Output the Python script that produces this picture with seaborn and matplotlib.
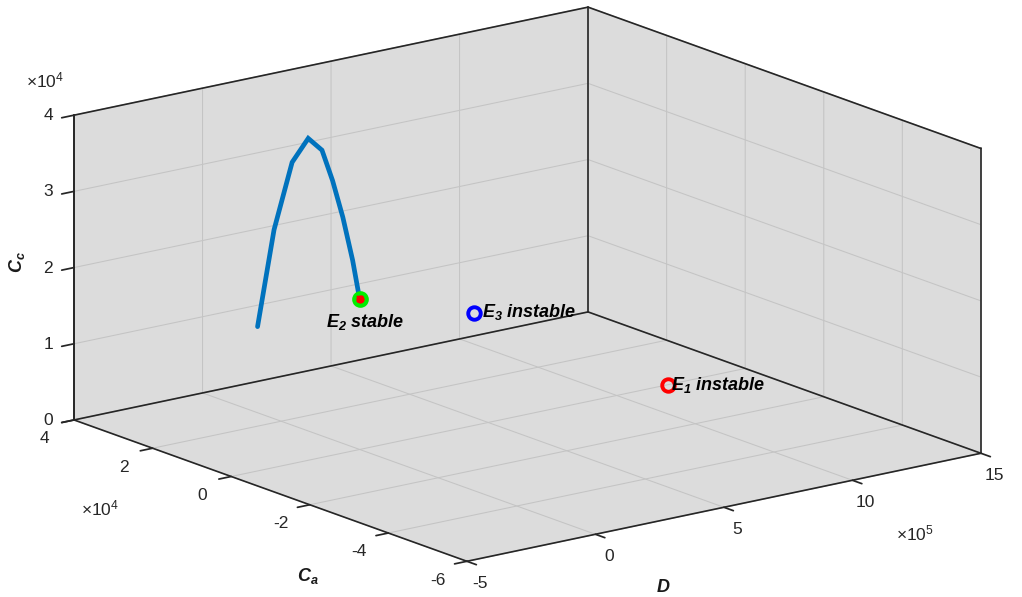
import numpy as np
import matplotlib
matplotlib.use("Agg")
import matplotlib.pyplot as plt
import seaborn as sns

# ---- data -------------------------------------------------------------
# trajectory (D, Ca, Cc) that settles onto the stable equilibrium E2
traj_D = [0, 0, 0, 0, 0, 0, 0, 0, 0]
traj_Ca = [2.60e4, 2.18e4, 1.72e4, 1.31e4, 0.96e4, 0.69e4, 0.43e4, 0.18e4, 0.0]
traj_Cc = [1.13e4, 2.48e4, 3.45e4, 3.84e4, 3.75e4, 3.40e4, 2.97e4, 2.45e4, 1.97e4]

# equilibria (D, Ca, Cc)
E1 = (1.20e6, 0.0, 0.0)
E2 = (0.0, 0.0, 1.97e4)
E3 = (4.46e5, 0.0, 1.475e4)

eq_names = [r"$\mathbfit{E}_{\mathbfit{1}}$ instable",
            r"$\mathbfit{E}_{\mathbfit{2}}$ stable",
            r"$\mathbfit{E}_{\mathbfit{3}}$ instable"]

# axis ticks (values) and their printed labels
D_ticks = [-5e5, 0, 5e5, 10e5, 15e5]
D_labels = ["-5", "0", "5", "10", "15"]
Ca_ticks = [-6e4, -4e4, -2e4, 0, 2e4, 4e4]
Ca_labels = ["-6", "-4", "-2", "0", "2", "4"]
Cc_ticks = [0, 1e4, 2e4, 3e4, 4e4]
Cc_labels = ["0", "1", "2", "3", "4"]

# ---- style ------------------------------------------------------------
sns.set_theme(style="white")
plt.rcParams.update({
    "font.family": ["Liberation Sans", "DejaVu Sans"],
    "axes.unicode_minus": False,
    "grid.color": "#c4c4c4",
    "grid.linewidth": 0.75,
    "mathtext.fontset": "custom",
    "mathtext.rm": "Liberation Sans",
    "mathtext.it": "Liberation Sans:italic",
    "mathtext.bf": "Liberation Sans:bold",
    "mathtext.bfit": "Liberation Sans:bold:italic",
})

edge = "#262626"
pane = "#dcdcdc"

fig = plt.figure(figsize=(10.22, 5.97), dpi=100)
ax = fig.add_axes([0.0438, -0.2846, 0.9198, 1.5745], projection="3d",
                  proj_type="ortho", computed_zorder=False)
ax.patch.set_alpha(0)
ax.view_init(elev=15.96, azim=-127.39)
ax.set_box_aspect((1, 1, 0.49), zoom=1.0)

ax.set_xlim(D_ticks[0], D_ticks[-1])
ax.set_ylim(Ca_ticks[0], Ca_ticks[-1])
ax.set_zlim(Cc_ticks[0], Cc_ticks[-1])
ax.set_xticks(D_ticks, D_labels)
ax.set_yticks(Ca_ticks, Ca_labels)
ax.set_zticks(Cc_ticks, Cc_labels)

for axis in (ax.xaxis, ax.yaxis, ax.zaxis):
    axis.set_pane_color(pane)
    axis.line.set_color(edge)
    axis.line.set_linewidth(1.2)
    axis._axinfo["tick"]["inward_factor"] = 0.3
    axis._axinfo["tick"]["outward_factor"] = 0.0
ax.tick_params(axis="both", labelsize=12.5, colors=edge, width=1.0)
ax.tick_params(axis="x", pad=4)
ax.tick_params(axis="y", pad=12)
ax.tick_params(axis="z", pad=2)

# tick-label alignment
for t in ax.yaxis.get_major_ticks():
    t.label1.set_verticalalignment("baseline")
for t in ax.zaxis.get_major_ticks():
    t.label1.set_verticalalignment("center_baseline")

# back edges of the box, drawn over the grid
x0, x1 = ax.get_xlim()
y0, y1 = ax.get_ylim()
z0, z1 = ax.get_zlim()
box_edges = [
    ((x0, x1), (y1, y1), (z0, z0)), ((x1, x1), (y0, y1), (z0, z0)),
    ((x0, x1), (y1, y1), (z1, z1)), ((x1, x1), (y0, y1), (z1, z1)),
    ((x1, x1), (y1, y1), (z0, z1)), ((x1, x1), (y0, y0), (z0, z1)),
    ((x0, x0), (y1, y1), (z0, z1)),
]
for ex, ey, ez in box_edges:
    ax.plot(ex, ey, ez, color=edge, lw=1.2, zorder=1, clip_on=False)

# ---- marks ------------------------------------------------------------
ax.plot(traj_D, traj_Ca, traj_Cc, color="#0072BD", lw=3.4,
        solid_joinstyle="miter", zorder=3)

ax.plot([E2[0]], [E2[1]], [E2[2]], "o", ms=9, mfc="#ff0000", mec="#00ee00",
        mew=3.0, zorder=4)
ax.plot([E2[0]], [E2[1]], [E2[2]], "x", ms=5, mec="#ff0000", mew=1.5, zorder=5)
ax.plot([E3[0]], [E3[1]], [E3[2]], "o", ms=9, mfc="none", mec="#0000ff",
        mew=2.8, zorder=4)
ax.plot([E1[0]], [E1[1]], [E1[2]], "o", ms=9, mfc="none", mec="#ff0000",
        mew=2.8, zorder=4)

# equilibrium labels, anchored at their baseline
label_pos = [(1.213e6, 0.0, -790.0), (0.0, 0.85e4, 1.45e4), (4.77e5, 0.0, 1.40e4)]
for (x, y, z), name in zip(label_pos, eq_names):
    ax.text(x, y, z, name, fontsize=13, fontweight="bold", style="italic",
            ha="left", va="baseline", color="black", zorder=6)

# axis titles and exponent multipliers
W, H = 1022, 597
def fx(px):
    return px / W
def fy(py):
    return 1 - py / H

lab = dict(fontsize=13, fontweight="bold", style="italic", color="#1a1a1a")
fig.text(fx(663), fy(587), "D", ha="center", va="center", **lab)
fig.text(fx(308), fy(576), r"$\mathbfit{C}_{\mathbfit{a}}$", ha="center",
         va="center", **lab)
fig.text(fx(17), fy(262), r"$\mathbfit{C}_{\mathbfit{c}}$", ha="center",
         va="center", rotation=90, **lab)

mult = dict(fontsize=12.5, color="#262626", ha="center", va="center")
fig.text(fx(45), fy(80), r"$\times10^{4}$", **mult)
fig.text(fx(100), fy(508), r"$\times10^{4}$", **mult)
fig.text(fx(915), fy(533), r"$\times10^{5}$", **mult)

fig.savefig("out.png", dpi=100)
